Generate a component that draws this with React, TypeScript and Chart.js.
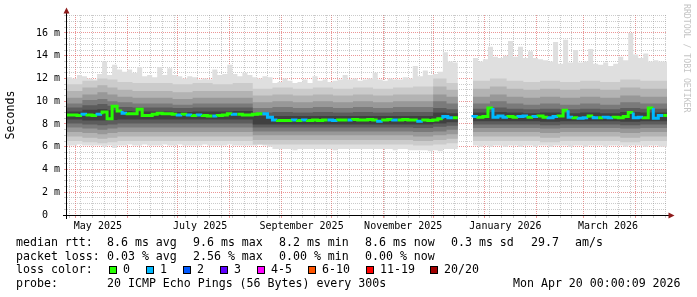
import React, { useEffect, useRef } from 'react';
import { Chart, registerables } from 'chart.js';

Chart.register(...registerables);

// ---------- time axis: days since 1 May 2025 ----------
const X_MIN = -5.2;
const X_MAX = 354; // Mon Apr 20 2026 00:00
const STEP_DAYS = 3;
const FIRST_SUNDAY = -4; // Sun Apr 27 2025

const monthStartDays = [0, 31, 61, 92, 123, 153, 184, 214, 245, 276, 304, 335];
const monthLabelDays = [13.3, 74.5, 135.2, 196.1, 257.3, 318.7];
const monthLabels = ['May 2025', 'July 2025', 'September 2025', 'November 2025', 'January 2026', 'March 2026'];

// ---------- value axis (milliseconds) ----------
const Y_MAX = 17.58;
const Y_MINOR = 0.5;
const Y_MAJOR = 2;

// ---------- median rtt (ms), one value every 3 days ----------
const medianMs = [
  8.85, 8.8, 8.8, 8.75, 8.85, 8.8, 8.75, 8.85, 9.05, 8.45,
  9.55, 9.15, 8.95, 8.9, 8.9, 9.3, 8.75, 8.75, 8.85, 8.95,
  8.9, 8.9, 8.85, 8.8, 8.85, 8.8, 8.75, 8.8, 8.75, 8.7,
  8.7, 8.75, 8.8, 8.9, 8.85, 8.85, 8.8, 8.8, 8.85, 8.9,
  8.9, 8.6, 8.35, 8.3, 8.3, 8.3, 8.35, 8.3, 8.35, 8.3,
  8.35, 8.3, 8.35, 8.35, 8.3, 8.35, 8.35, 8.35, 8.4, 8.35,
  8.35, 8.4, 8.35, 8.25, 8.35, 8.4, 8.35, 8.35, 8.4, 8.35,
  8.35, 8.25, 8.35, 8.3, 8.35, 8.45, 8.65, 8.55, 8.55, null,
  null, 8.6, 8.65, 8.6, 8.65, 9.4, 8.6, 8.7, 8.6, 8.65,
  8.6, 8.65, 8.7, 8.6, 8.65, 8.7, 8.6, 8.55, 8.65, 8.7,
  9.2, 8.6, 8.55, 8.5, 8.55, 8.7, 8.55, 8.55, 8.6, 8.55,
  8.6, 8.55, 8.65, 9.0, 8.55, 8.6, 8.55, 9.4, 8.5, 8.75,
];

// lost pings (of 20) for each median point
const lossCount = [
  0, 0, 0, 1, 0, 0, 1, 0, 0, 0,
  0, 1, 0, 0, 0, 0, 0, 0, 0, 0,
  0, 0, 1, 0, 1, 0, 1, 0, 0, 1,
  0, 0, 0, 1, 0, 0, 0, 0, 0, 1,
  1, 1, 0, 0, 0, 1, 0, 1, 0, 0,
  0, 0, 1, 1, 0, 0, 1, 0, 0, 0,
  0, 0, 1, 0, 0, 1, 0, 0, 0, 0,
  1, 0, 0, 0, 0, 1, 1, 0, 1, 0,
  0, 1, 0, 0, 0, 1, 1, 1, 0, 0,
  1, 1, 0, 1, 0, 0, 1, 1, 0, 0,
  1, 0, 1, 1, 0, 1, 0, 1, 1, 0,
  0, 0, 0, 1, 1, 0, 0, 1, 1, 0,
];

// slowest ping (ms) per point
const maxMs = [
  12.2, 12.1, 12.0, 12.3, 12.2, 12.0, 11.9, 12.4, 13.5, 12.3,
  13.2, 12.8, 12.6, 12.8, 12.5, 13.0, 12.2, 12.3, 12.1, 13.0,
  12.3, 12.9, 12.3, 12.2, 12.0, 12.2, 12.1, 11.9, 12.0, 11.9,
  12.8, 12.3, 12.4, 13.2, 12.4, 12.2, 12.5, 12.3, 12.1, 12.0,
  12.2, 12.1, 11.6, 11.7, 12.0, 11.8, 11.6, 11.7, 11.9, 11.6,
  12.2, 11.8, 11.9, 11.7, 11.8, 11.9, 12.3, 11.9, 12.0, 11.8,
  11.9, 12.0, 12.5, 11.9, 11.8, 12.0, 11.9, 11.9, 12.1, 12.0,
  13.1, 12.2, 12.7, 12.3, 12.4, 12.6, 14.3, 13.5, 13.4, null,
  null, 13.6, 13.8, 13.5, 13.7, 14.8, 13.9, 13.8, 14.0, 15.3,
  13.9, 14.8, 13.8, 14.4, 13.8, 13.7, 13.6, 13.5, 15.2, 13.3,
  15.4, 13.4, 14.5, 13.4, 13.5, 14.6, 13.3, 13.2, 13.4, 13.1,
  13.3, 13.9, 13.6, 16.0, 14.1, 13.8, 14.2, 13.5, 13.6, 13.5,
];

// fastest ping (ms) per point
const minMs = [
  6.2, 6.1, 6.1, 6.2, 6.1, 6.1, 6.1, 6.1, 6.0, 6.1,
  5.9, 6.1, 6.1, 6.2, 6.1, 6.1, 6.2, 6.1, 6.1, 6.1,
  6.2, 6.1, 6.1, 6.2, 6.1, 6.1, 6.1, 6.1, 6.2, 6.1,
  6.1, 6.1, 6.1, 6.2, 6.1, 6.1, 6.1, 6.1, 6.1, 6.2,
  6.1, 6.0, 5.8, 5.8, 5.8, 5.8, 5.7, 5.8, 5.8, 5.8,
  5.8, 5.8, 5.8, 5.8, 5.7, 5.8, 5.8, 5.8, 5.8, 5.8,
  5.8, 5.8, 5.8, 5.8, 5.8, 5.8, 5.7, 5.8, 5.8, 5.7,
  5.7, 5.7, 5.7, 5.6, 5.7, 5.6, 5.8, 5.8, 5.8, null,
  null, 6.0, 6.1, 6.0, 6.1, 6.0, 6.1, 6.1, 6.0, 6.1,
  6.1, 6.0, 6.1, 6.1, 6.0, 6.1, 6.1, 6.0, 6.1, 6.1,
  6.1, 6.0, 6.1, 6.1, 6.0, 6.1, 6.1, 6.1, 6.0, 6.1,
  6.1, 6.1, 6.0, 6.1, 6.1, 6.1, 6.0, 6.1, 6.1, 6.0,
];

// inner smoke bands (ping percentiles), sampled at these days; last entry closes the series
const bandDays = [
  -5.2, 4, 13, 19, 25, 34, 46, 58, 70, 82, 94, 106,
  117.8, 130, 142, 154, 166, 178, 190, 202, 214, 222, 228.8,
  231.8,
  237.8, 248, 258, 268, 278, 290, 302, 314, 326, 338, 346, 354,
];
const band2Hi = [
  11.6, 11.5, 11.8, 12.0, 11.9, 11.7, 11.6, 11.6, 11.5, 11.6, 11.5, 11.6,
  11.1, 11.2, 11.1, 11.2, 11.1, 11.2, 11.1, 11.2, 11.3, 12.0, 11.6,
  null,
  11.9, 11.8, 12.0, 11.8, 11.7, 11.8, 11.7, 11.8, 11.7, 11.9, 11.8, 11.8,
];
const band2Lo = [
  6.5, 6.5, 6.4, 6.3, 6.4, 6.5, 6.5, 6.5, 6.5, 6.5, 6.5, 6.5,
  6.2, 6.2, 6.2, 6.2, 6.2, 6.2, 6.2, 6.2, 6.1, 6.2, 6.3,
  null,
  6.5, 6.5, 6.5, 6.5, 6.5, 6.4, 6.5, 6.5, 6.5, 6.4, 6.5, 6.5,
];
const band3Hi = [
  11.0, 10.9, 11.2, 11.4, 11.2, 11.0, 10.9, 10.9, 10.8, 10.9, 10.9, 10.9,
  10.5, 10.6, 10.5, 10.6, 10.5, 10.6, 10.5, 10.6, 10.6, 11.3, 11.0,
  null,
  11.1, 11.1, 11.3, 11.1, 11.0, 11.1, 11.0, 11.1, 11.0, 11.2, 11.1, 11.1,
];
const band3Lo = [
  6.9, 6.9, 6.8, 6.7, 6.8, 6.9, 6.9, 6.9, 6.9, 6.9, 6.9, 6.9,
  6.6, 6.6, 6.6, 6.6, 6.6, 6.6, 6.6, 6.6, 6.5, 6.6, 6.7,
  null,
  6.9, 6.9, 6.9, 6.9, 6.9, 6.8, 6.9, 6.9, 6.9, 6.8, 6.9, 6.9,
];
const band4Hi = [
  10.4, 10.3, 10.6, 10.8, 10.6, 10.4, 10.3, 10.3, 10.2, 10.3, 10.3, 10.3,
  9.9, 10.0, 9.9, 10.0, 9.9, 10.0, 9.9, 10.0, 10.0, 10.6, 10.4,
  null,
  10.4, 10.4, 10.6, 10.4, 10.3, 10.4, 10.3, 10.4, 10.3, 10.5, 10.4, 10.4,
];
const band4Lo = [
  7.3, 7.3, 7.2, 7.1, 7.2, 7.3, 7.3, 7.3, 7.3, 7.3, 7.3, 7.3,
  7.0, 7.0, 7.0, 7.0, 7.0, 7.0, 7.0, 7.0, 6.9, 7.0, 7.1,
  null,
  7.3, 7.3, 7.3, 7.3, 7.3, 7.2, 7.3, 7.3, 7.3, 7.2, 7.3, 7.3,
];
const band5Hi = [
  9.9, 9.8, 10.1, 10.2, 10.0, 9.9, 9.8, 9.8, 9.7, 9.8, 9.8, 9.8,
  9.4, 9.5, 9.4, 9.5, 9.4, 9.5, 9.4, 9.5, 9.5, 10.0, 9.8,
  null,
  9.8, 9.8, 10.0, 9.8, 9.7, 9.8, 9.7, 9.8, 9.7, 9.9, 9.8, 9.8,
];
const band5Lo = [
  7.7, 7.7, 7.6, 7.5, 7.6, 7.7, 7.7, 7.7, 7.7, 7.7, 7.7, 7.7,
  7.35, 7.35, 7.35, 7.35, 7.35, 7.35, 7.35, 7.35, 7.3, 7.35, 7.5,
  null,
  7.65, 7.65, 7.65, 7.65, 7.65, 7.6, 7.65, 7.65, 7.65, 7.6, 7.65, 7.65,
];
const band6Hi = [
  9.5, 9.45, 9.65, 9.75, 9.6, 9.5, 9.45, 9.45, 9.4, 9.45, 9.45, 9.45,
  9.0, 9.05, 9.0, 9.05, 9.0, 9.05, 9.0, 9.05, 9.05, 9.4, 9.3,
  null,
  9.35, 9.35, 9.45, 9.35, 9.3, 9.35, 9.3, 9.35, 9.3, 9.4, 9.35, 9.35,
];
const band6Lo = [
  8.05, 8.05, 7.95, 7.9, 7.95, 8.05, 8.05, 8.05, 8.05, 8.05, 8.05, 8.05,
  7.7, 7.7, 7.7, 7.7, 7.7, 7.7, 7.7, 7.7, 7.65, 7.75, 7.85,
  null,
  7.95, 7.95, 7.95, 7.95, 7.95, 7.9, 7.95, 7.95, 7.95, 7.9, 7.95, 7.95,
];
const band7Hi = [
  9.15, 9.1, 9.25, 9.3, 9.2, 9.15, 9.1, 9.1, 9.05, 9.1, 9.1, 9.15,
  8.7, 8.7, 8.7, 8.7, 8.7, 8.7, 8.7, 8.7, 8.7, 9.0, 8.95,
  null,
  9.0, 9.0, 9.05, 9.0, 8.95, 9.0, 8.95, 9.0, 8.95, 9.05, 9.0, 9.0,
];
const band7Lo = [
  8.4, 8.4, 8.3, 8.3, 8.35, 8.4, 8.4, 8.4, 8.4, 8.4, 8.4, 8.4,
  7.95, 7.95, 7.95, 7.95, 7.95, 7.95, 7.95, 7.95, 7.95, 8.05, 8.15,
  null,
  8.25, 8.25, 8.25, 8.25, 8.25, 8.2, 8.25, 8.25, 8.25, 8.2, 8.25, 8.25,
];

const smokeColors = ['#dfdfdf', '#cbcbcb', '#b3b3b3', '#989898', '#7a7a7a', '#5c5c5c', '#404040'];

// ---------- legend ----------
const lossLabels = ['0', '1', '2', '3', '4-5', '6-10', '11-19', '20/20'];
const lossColors = ['#26ff00', '#00b8ff', '#0059ff', '#5e00ff', '#ff00ff', '#ff5500', '#ff0000', '#a10000'];
const rttStats = ['8.6 ms avg', '9.6 ms max', '8.2 ms min', '8.6 ms now', '0.3 ms sd'];
const lossStats = ['0.03 % avg', '2.56 % max', '0.00 % min', '0.00 % now'];
const amsValue = '29.7';
const probeText = '20 ICMP Echo Pings (56 Bytes) every 300s';
const stampText = 'Mon Apr 20 00:00:09 2026';

const MONO = '"DejaVu Sans Mono", monospace';
const GRID = 'rgba(140,140,140,0.45)';
const MGRID = 'rgba(222,80,80,0.6)';

function lossBucket(n: number): number {
  if (n <= 3) return n;
  if (n <= 5) return 4;
  if (n <= 10) return 5;
  if (n <= 19) return 6;
  return 7;
}

const fineDays = medianMs.map((_, i) => X_MIN + i * STEP_DAYS);
function finePoints(values: (number | null)[]) {
  const pts = values.map((v, i) => ({ x: fineDays[i], y: v }));
  pts.push({ x: X_MAX, y: values[values.length - 1] });
  return pts;
}
function bandPoints(values: (number | null)[]) {
  return values.map((v, i) => ({ x: bandDays[i], y: v }));
}

// x tick kinds
const xTickKind = new Map<number, string>();
for (let d = FIRST_SUNDAY; d < X_MAX; d += 7) xTickKind.set(d, 'week');
monthStartDays.forEach((d) => xTickKind.set(d, 'month'));
const xLabelByDay = new Map<number, string>();
monthLabelDays.forEach((d, i) => {
  xTickKind.set(d, 'label');
  xLabelByDay.set(d, monthLabels[i]);
});
const xTickValues = Array.from(xTickKind.keys()).sort((a, b) => a - b);
const yTickValues: number[] = [];
for (let v = 0; v <= Y_MAX; v += Y_MINOR) yTickValues.push(v);

const axesPlugin = {
  id: 'rrdAxes',
  afterDraw(chart: any) {
    const { ctx, chartArea: a } = chart;
    ctx.save();
    ctx.strokeStyle = '#000';
    ctx.lineWidth = 1;
    ctx.beginPath();
    ctx.moveTo(a.left - 4, a.bottom + 0.5);
    ctx.lineTo(a.right + 2, a.bottom + 0.5);
    ctx.moveTo(a.left - 0.5, a.bottom + 4);
    ctx.lineTo(a.left - 0.5, a.top - 2);
    ctx.stroke();
    ctx.fillStyle = '#8e1b1b';
    ctx.beginPath();
    ctx.moveTo(a.right + 7.5, a.bottom + 0.5);
    ctx.lineTo(a.right + 1.5, a.bottom - 2.5);
    ctx.lineTo(a.right + 1.5, a.bottom + 3.5);
    ctx.closePath();
    ctx.fill();
    ctx.beginPath();
    ctx.moveTo(a.left - 0.5, a.top - 7.5);
    ctx.lineTo(a.left - 3.5, a.top - 1.5);
    ctx.lineTo(a.left + 2.5, a.top - 1.5);
    ctx.closePath();
    ctx.fill();
    ctx.restore();
  },
};

function buildConfig(): any {
  const layers = [
    { lo: finePoints(minMs), hi: finePoints(maxMs) },
    { lo: bandPoints(band2Lo), hi: bandPoints(band2Hi) },
    { lo: bandPoints(band3Lo), hi: bandPoints(band3Hi) },
    { lo: bandPoints(band4Lo), hi: bandPoints(band4Hi) },
    { lo: bandPoints(band5Lo), hi: bandPoints(band5Hi) },
    { lo: bandPoints(band6Lo), hi: bandPoints(band6Hi) },
    { lo: bandPoints(band7Lo), hi: bandPoints(band7Hi) },
  ];
  const datasets: any[] = [];
  layers.forEach((layer, k) => {
    const loIndex = datasets.length;
    const common = {
      type: 'line',
      stepped: 'after',
      pointRadius: 0,
      borderWidth: 0,
      borderColor: 'transparent',
      spanGaps: false,
      order: 20 - k,
    };
    datasets.push({ ...common, label: `smoke ${k} low`, data: layer.lo, fill: false });
    datasets.push({
      ...common,
      label: `smoke ${k} high`,
      data: layer.hi,
      fill: { target: loIndex },
      backgroundColor: smokeColors[k],
    });
  });
  datasets.push({
    type: 'line',
    label: 'median rtt',
    data: finePoints(medianMs),
    stepped: 'after',
    pointRadius: 0,
    borderWidth: 3,
    borderCapStyle: 'butt',
    borderJoinStyle: 'miter',
    borderColor: lossColors[0],
    spanGaps: false,
    fill: false,
    order: 0,
    segment: {
      borderColor: (c: any) => lossColors[lossBucket(lossCount[c.p0DataIndex] ?? 0)],
    },
  });

  return {
    type: 'line',
    data: { datasets },
    options: {
      responsive: false,
      animation: false,
      events: [],
      devicePixelRatio: 1,
      layout: { padding: { left: 0, right: 30, top: 15, bottom: 62 } },
      plugins: { legend: { display: false }, tooltip: { enabled: false } },
      scales: {
        x: {
          type: 'linear',
          min: X_MIN,
          max: X_MAX,
          z: 1,
          afterFit: (s: any) => { s.height = 20; },
          afterBuildTicks: (s: any) => { s.ticks = xTickValues.map((v) => ({ value: v })); },
          grid: {
            lineWidth: 1,
            tickLength: 3,
            color: (c: any) => {
              const kind = c.tick ? xTickKind.get(c.tick.value) : 'week';
              if (kind === 'month') return MGRID;
              if (kind === 'week') return GRID;
              return 'rgba(0,0,0,0)';
            },
          },
          border: { display: false, dash: [1, 1] },
          ticks: {
            autoSkip: false,
            maxRotation: 0,
            padding: 2,
            color: '#000',
            font: { family: MONO, size: 10 },
            callback: (v: number) => xLabelByDay.get(v) ?? '',
          },
        },
        y: {
          type: 'linear',
          min: 0,
          max: Y_MAX,
          z: 1,
          afterFit: (s: any) => { s.width = 67; },
          afterBuildTicks: (s: any) => { s.ticks = yTickValues.map((v) => ({ value: v })); },
          grid: {
            lineWidth: 1,
            tickLength: 3,
            color: (c: any) => (c.tick && c.tick.value % Y_MAJOR === 0 ? MGRID : GRID),
          },
          border: { display: false, dash: [1, 1] },
          ticks: {
            autoSkip: false,
            padding: 4,
            color: '#000',
            font: { family: MONO, size: 10 },
            callback: (v: number) => (v % Y_MAJOR === 0 ? (v === 0 ? '0  ' : `${v} m`) : ''),
          },
          title: {
            display: true,
            text: 'Seconds',
            color: '#000',
            font: { family: MONO, size: 11.6 },
            padding: { top: 4.5, bottom: 0 },
          },
        },
      },
    },
    plugins: [axesPlugin],
  };
}

const ROW_TOPS = [235, 248.7, 262.4, 276.1];
const STAT_X = [107, 193, 279, 365, 451];
const BOX_X = [109, 146, 183, 220, 257, 308, 366, 430];
const BOX_LABEL_X = [123, 160, 197, 234, 271, 322, 380, 444];

const txt = (left: number, top: number, text: string, key: string) => (
  <span
    key={key}
    style={{
      position: 'absolute',
      left,
      top,
      font: `11.6px ${MONO}`,
      lineHeight: '14px',
      whiteSpace: 'pre',
      color: '#000',
    }}
  >
    {text}
  </span>
);

export default function App() {
  const ref = useRef<HTMLCanvasElement>(null);
  useEffect(() => {
    const chart = new Chart(ref.current as HTMLCanvasElement, buildConfig());
    return () => chart.destroy();
  }, []);

  return (
    <div style={{ position: 'fixed', left: 0, top: 0, width: 697, height: 297, background: '#fff', overflow: 'hidden' }}>
      <canvas ref={ref} width={697} height={297} style={{ position: 'absolute', left: 0, top: 0, width: 697, height: 297 }} />
      {txt(16, ROW_TOPS[0], 'median rtt:', 'r0')}
      {rttStats.map((s, i) => txt(STAT_X[i], ROW_TOPS[0], s, `rs${i}`))}
      {txt(531, ROW_TOPS[0], amsValue, 'ams')}
      {txt(575, ROW_TOPS[0], 'am/s', 'amsu')}
      {txt(16, ROW_TOPS[1], 'packet loss:', 'r1')}
      {lossStats.map((s, i) => txt(STAT_X[i], ROW_TOPS[1], s, `ls${i}`))}
      {txt(16, ROW_TOPS[2], 'loss color:', 'r2')}
      {lossLabels.map((l, i) => (
        <React.Fragment key={`lc${i}`}>
          <span
            style={{
              position: 'absolute',
              left: BOX_X[i],
              top: 265.5,
              width: 8,
              height: 8,
              boxSizing: 'border-box',
              border: '1px solid #000',
              background: lossColors[i],
            }}
          />
          {txt(BOX_LABEL_X[i], ROW_TOPS[2], l, `lt${i}`)}
        </React.Fragment>
      ))}
      {txt(16, ROW_TOPS[3], 'probe:', 'r3')}
      {txt(107, ROW_TOPS[3], probeText, 'probe')}
      {txt(513, ROW_TOPS[3], stampText, 'stamp')}
      <span
        style={{
          position: 'absolute',
          left: 682,
          top: 4,
          writingMode: 'vertical-rl',
          font: `8.2px ${MONO}`,
          lineHeight: '10px',
          whiteSpace: 'pre',
          color: '#c4c4c4',
        }}
      >
        RRDTOOL / TOBI OETIKER
      </span>
    </div>
  );
}
